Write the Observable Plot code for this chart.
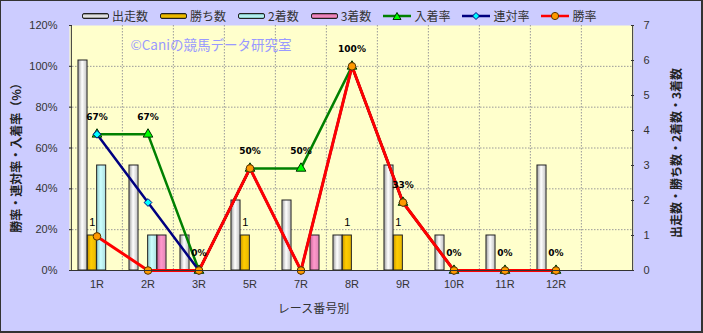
<!DOCTYPE html>
<html><head><meta charset="utf-8">
<script src="https://cdn.jsdelivr.net/npm/d3@7"></script>
<script src="https://cdn.jsdelivr.net/npm/@observablehq/plot@0.6"></script>
<style>
body{margin:0;background:#fff;}
#wrap{position:relative;width:703px;height:333px;background:#CCCCFF;overflow:hidden;font-family:"Noto Sans CJK JP","Noto Sans",sans-serif;}
#wrap svg{position:absolute;left:0;top:0;}
#frame{position:absolute;left:0;top:0;width:703px;height:333px;box-sizing:border-box;border:1px solid #333;border-right-width:2px;border-bottom-width:2px;pointer-events:none;}
#legend{position:absolute;left:82px;top:8px;display:flex;align-items:center;font-size:12px;line-height:16px;color:#333;white-space:nowrap;}
#legend .it{display:flex;align-items:center;margin-right:12px;}
#legend .sw{display:inline-block;width:25px;height:4px;border:1px solid #222;border-radius:2px;margin-right:3px;}
#legend svg{position:static;margin-right:3px;}
</style></head>
<body>
<div id="wrap"><div id="legend"></div><div id="frame"></div></div>
<script>
// ---- data ----
const races = ["1R","2R","3R","5R","7R","8R","9R","10R","11R","12R"];
const starts  = [6,3,1,2,2,1,3,1,1,3];
const wins    = [1,0,0,1,0,1,1,0,0,0];
const seconds = [3,1,0,0,0,0,0,0,0,0];
const thirds  = [0,1,0,0,1,0,0,0,0,0];
const placeRate  = [66.7,66.7,0,50,50,100,33.3,0,0,0];
const rentaiRate = [66.7,33.3,0,50,0,100,33.3,0,0,0];
const winRate    = [16.7,0,0,50,0,100,33.3,0,0,0];
const leftTicks = [0,20,40,60,80,100,120];
const rightTicks = [0,1,2,3,4,5,6,7];
const seriesNames = ["出走数","勝ち数","2着数","3着数","入着率","連対率","勝率"];

const rows = races.map((r,i)=>({race:r, starts:starts[i], wins:wins[i], seconds:seconds[i], thirds:thirds[i],
  place:placeRate[i], rentai:rentaiRate[i], win:winRate[i]}));

const W=703,H=333, mL=69, mR=70, mT=25, mB=63;
const domainX = [...races, ""];
const bw = (W-mL-mR)/domainX.length;
const barW = 9.33;
const groupLeft = bw/2 - 2*barW;
const K = 120/7; // counts -> percent axis
function ins(i){const l=groupLeft+i*barW; return {insetLeft:l, insetRight:bw-l-barW};}

const barSeries = [
  {key:"starts", fill:"url(#gW)"},
  {key:"wins", fill:"url(#gG)"},
  {key:"seconds", fill:"url(#gC)"},
  {key:"thirds", fill:"url(#gP)"}
];
const font = "'Liberation Sans','Noto Sans CJK JP',sans-serif";
const cjk = "'Noto Sans CJK JP',sans-serif";

const marks = [
  Plot.frame({fill:"#FFFFCC", stroke:null}),
  Plot.ruleY([20,40,60,80,100], {stroke:"#999", strokeDasharray:"1.5,1.5"}),
  Plot.ruleX(domainX.slice(1), {dx:-bw/2, stroke:"#999", strokeDasharray:"1.5,1.5"}),
  ...barSeries.map((s,i)=>Plot.barY(rows.filter(d=>d[s.key]>0), {x:"race", y:d=>d[s.key]*K, fill:s.fill, stroke:"#222", strokeWidth:1, ...ins(i)})),
  Plot.line(rows, {x:"race", y:"place", stroke:"#008000", strokeWidth:2.5}),
  Plot.line(rows, {x:"race", y:"rentai", stroke:"#000080", strokeWidth:2.5}),
  Plot.line(rows, {x:"race", y:"win", stroke:"#FF0000", strokeWidth:3}),
  Plot.dot(rows, {x:"race", y:"place", symbol:"triangle", r:3.6, fill:"#00FF00", stroke:"#003300", strokeWidth:1}),
  Plot.dot(rows, {x:"race", y:"rentai", symbol:"diamond2", r:3.5, fill:"#00FFFF", stroke:"#000080", strokeWidth:1}),
  Plot.dot(rows, {x:"race", y:"win", symbol:"circle", r:3.8, fill:"#FF9900", stroke:"#553300", strokeWidth:1}),
  Plot.text(rows, {x:"race", y:"place", text:d=>Math.round(d.place)+"%", dy:-17, fontSize:9, fontWeight:"bold", fill:"#000", fontFamily:"'DejaVu Sans',sans-serif"}),
  Plot.text(rows.filter(d=>d.wins>0), {x:"race", y:d=>d.wins*K, text:d=>String(d.wins), dx:-barW/2, dy:-13, fontSize:11, fill:"#000"}),
  // axes lines
  Plot.ruleX([domainX[0]], {dx:-bw/2, stroke:"#333"}),
  Plot.ruleX([domainX[domainX.length-1]], {dx:bw/2, stroke:"#333"}),
  Plot.ruleY([0], {stroke:"#333"}),
  // left axis
  Plot.axisY(leftTicks, {anchor:"left", tickSize:3, dx:3, tickFormat:()=>"", label:null, stroke:"#333"}),
  Plot.axisY(leftTicks, {anchor:"left", tickSize:0, tickPadding:12, tickFormat:d=>d+"%", label:null, fontSize:11, fill:"#333"}),
  // right axis
  Plot.axisY(rightTicks.map(v=>v*K), {anchor:"right", tickSize:3, dx:-3, tickFormat:()=>"", label:null, stroke:"#333"}),
  Plot.axisY(rightTicks.map(v=>v*K), {anchor:"right", tickSize:0, tickPadding:10, tickFormat:d=>String(Math.round(d/K)), label:null, fontSize:11, fill:"#333"}),
  Plot.axisX(domainX, {tickSize:0, tickPadding:10, label:null, fontSize:11, fill:"#333"}),
  // titles
  Plot.text(["©Caniの競馬データ研究室"], {frameAnchor:"top-left", dx:61, dy:20, lineAnchor:"middle", textAnchor:"start", fontSize:13.5, fill:"#9999FF", fontFamily:cjk}),
  Plot.text(["勝率・連対率・入着率（%）"], {frameAnchor:"left", dx:-52, dy:7, rotate:-90, lineAnchor:"middle", textAnchor:"middle", fontSize:12, fontWeight:"bold", fill:"#222", fontFamily:cjk}),
  Plot.text(["出走数・勝ち数・2着数・3着数"], {frameAnchor:"right", dx:44, dy:5, rotate:-90, lineAnchor:"middle", textAnchor:"middle", fontSize:12, fontWeight:"bold", fill:"#222", fontFamily:cjk}),
  Plot.text(["レース番号別"], {frameAnchor:"bottom", dx:-38, dy:39, lineAnchor:"middle", textAnchor:"middle", fontSize:12, fill:"#333", fontFamily:cjk})
];

const chart = Plot.plot({
  width:W, height:H, marginLeft:mL, marginRight:mR, marginTop:mT, marginBottom:mB,
  x:{type:"band", domain:domainX, padding:0, axis:null},
  y:{domain:[0,120], axis:null},
  style:{background:"transparent", fontFamily:font, fontSize:"11px", color:"#333"},
  marks
});

// gradients
const defs = d3.select(chart).insert("defs", ":first-child");
function grad(id, stops){
  const g = defs.append("linearGradient").attr("id", id).attr("x1",0).attr("x2",1).attr("y1",0).attr("y2",0);
  stops.forEach(([o,c])=>g.append("stop").attr("offset",o).attr("stop-color",c));
}
grad("gW", [[0,"#a0a0a0"],[0.45,"#ffffff"],[1,"#c0c0c0"]]);
grad("gG", [[0,"#c89600"],[0.4,"#ffcc00"],[1,"#e8b800"]]);
grad("gC", [[0,"#90cccc"],[0.45,"#ccffff"],[1,"#aadede"]]);
grad("gP", [[0,"#c86498"],[0.45,"#ff99cc"],[1,"#e084b4"]]);

const wrap = document.getElementById("wrap");
wrap.insertBefore(chart, wrap.firstChild);

// legend
const legendDefs = [
  {type:"bar", bg:"linear-gradient(to bottom,#777,#fff 50%,#888)"},
  {type:"bar", bg:"linear-gradient(to bottom,#a07800,#ffcc00 50%,#b08800)"},
  {type:"bar", bg:"linear-gradient(to bottom,#6aa,#ccffff 50%,#7bb)"},
  {type:"bar", bg:"linear-gradient(to bottom,#a04878,#ff99cc 50%,#b05888)"},
  {type:"line", stroke:"#008000", sym:"tri", fill:"#00FF00", ms:"#003300"},
  {type:"line", stroke:"#000080", sym:"dia", fill:"#00FFFF", ms:"#000080"},
  {type:"line", stroke:"#FF0000", sym:"cir", fill:"#FF9900", ms:"#553300"}
];
const leg = document.getElementById("legend");
seriesNames.forEach((name,i)=>{
  const d = legendDefs[i];
  const it = document.createElement("span"); it.className="it";
  let sw;
  if(d.type==="bar"){
    sw = `<span class="sw" style="background:${d.bg}"></span>`;
  } else {
    let m;
    if(d.sym==="tri") m = `<path d="M14,1.5 L18,8.5 L10,8.5 Z" fill="${d.fill}" stroke="${d.ms}" stroke-width="1"/>`;
    else if(d.sym==="dia") m = `<path d="M14,1.5 L17.5,5 L14,8.5 L10.5,5 Z" fill="${d.fill}" stroke="${d.ms}" stroke-width="1"/>`;
    else m = `<circle cx="14" cy="5" r="3.6" fill="${d.fill}" stroke="${d.ms}" stroke-width="1"/>`;
    sw = `<svg width="28" height="10"><line x1="0" x2="28" y1="5" y2="5" stroke="${d.stroke}" stroke-width="2.5"/>${m}</svg>`;
  }
  it.innerHTML = sw + `<span>${name}</span>`;
  leg.appendChild(it);
});
</script>
</body></html>
